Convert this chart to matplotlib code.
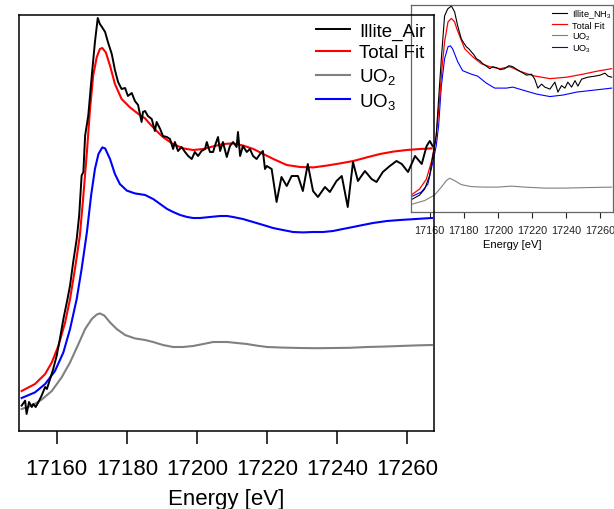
import matplotlib
matplotlib.use("Agg")
import matplotlib.pyplot as plt

plt.rcParams['font.family'] = ['Liberation Sans', 'DejaVu Sans']
plt.rcParams['mathtext.fontset'] = 'custom'
plt.rcParams['mathtext.rm'] = 'Liberation Sans'
plt.rcParams['mathtext.it'] = 'Liberation Sans:italic'

# ---- main panel: Illite_Air (normalised absorbance, arbitrary offsets) ----
air_E = [17150.0, 17151.0, 17151.4, 17152.1, 17152.9, 17153.3, 17154.0, 17154.8, 17155.7, 17156.7,
         17157.2, 17158.1, 17159.0, 17160.0, 17160.9, 17161.9, 17162.9, 17163.8, 17164.7, 17165.7,
         17166.4, 17167.1, 17167.6, 17168.1, 17169.0, 17170.0, 17170.9, 17171.7, 17172.3, 17172.9,
         17173.8, 17174.6, 17175.7, 17176.6, 17177.5, 17178.5, 17179.5, 17180.3, 17181.4, 17182.3,
         17183.2, 17184.2, 17184.6, 17185.2, 17186.0, 17187.1, 17188.0, 17188.5, 17189.5, 17190.3,
         17191.4, 17192.3, 17193.2, 17193.7, 17194.6, 17195.6, 17196.6, 17197.5, 17198.5, 17199.4,
         17200.3, 17201.3, 17202.3, 17202.8, 17203.7, 17204.6, 17205.1, 17206.0, 17206.6, 17207.4,
         17208.5, 17209.4, 17210.3, 17211.3, 17211.7, 17212.3, 17213.1, 17214.2, 17215.1, 17216.0,
         17217.0, 17218.0, 17218.8, 17219.4, 17219.9, 17221.3, 17222.7, 17224.1, 17225.6, 17227.0,
         17228.8, 17230.2, 17231.6, 17233.1, 17234.5, 17236.5, 17237.9, 17239.8, 17241.3, 17243.0,
         17244.5, 17245.9, 17247.9, 17249.8, 17251.2, 17253.0, 17255.0, 17256.9, 17258.4, 17260.2,
         17262.2, 17264.1, 17265.5, 17266.4, 17267.2]
air_mu = [0.127, 0.152, 0.085, 0.145, 0.120, 0.135, 0.120, 0.145, 0.177, 0.220,
          0.210, 0.260, 0.310, 0.377, 0.460, 0.560, 0.645, 0.727, 0.845, 0.960,
          1.077, 1.277, 1.295, 1.477, 1.577, 1.777, 1.945, 2.065, 2.035, 2.020,
          1.995, 1.945, 1.885, 1.805, 1.745, 1.710, 1.715, 1.675, 1.690, 1.650,
          1.630, 1.545, 1.595, 1.600, 1.575, 1.560, 1.500, 1.545, 1.510, 1.475,
          1.470, 1.460, 1.410, 1.445, 1.400, 1.420, 1.395, 1.375, 1.360, 1.395,
          1.375, 1.400, 1.410, 1.445, 1.395, 1.395, 1.425, 1.470, 1.400, 1.445,
          1.370, 1.425, 1.445, 1.420, 1.495, 1.375, 1.425, 1.395, 1.410, 1.375,
          1.360, 1.385, 1.400, 1.310, 1.325, 1.310, 1.145, 1.270, 1.225, 1.275,
          1.275, 1.200, 1.335, 1.200, 1.170, 1.220, 1.195, 1.250, 1.275, 1.120,
          1.345, 1.250, 1.300, 1.260, 1.245, 1.295, 1.325, 1.350, 1.335, 1.295,
          1.375, 1.335, 1.425, 1.450, 1.425]

fit_E = [17150.0, 17153.8, 17156.7, 17158.6, 17160.5, 17162.4, 17163.8, 17165.2, 17166.6, 17167.6,
         17168.6, 17169.5, 17170.4, 17171.4, 17172.3, 17173.0, 17174.0, 17175.2, 17176.6, 17178.5,
         17180.9, 17183.3, 17185.2, 17186.6, 17188.5, 17190.4, 17193.2, 17196.1, 17198.9, 17201.8,
         17204.6, 17207.5, 17210.3, 17213.2, 17216.1, 17218.9, 17221.8, 17225.6, 17229.4, 17233.2,
         17237.0, 17240.8, 17244.6, 17248.4, 17252.2, 17256.0, 17259.8, 17263.6, 17266.9]
fit_mu = [0.200, 0.235, 0.285, 0.343, 0.427, 0.543, 0.660, 0.810, 0.977, 1.177,
          1.393, 1.610, 1.777, 1.868, 1.910, 1.915, 1.893, 1.827, 1.735, 1.660,
          1.618, 1.585, 1.563, 1.535, 1.500, 1.468, 1.435, 1.413, 1.405, 1.410,
          1.423, 1.435, 1.438, 1.427, 1.410, 1.385, 1.360, 1.330, 1.320, 1.318,
          1.327, 1.338, 1.350, 1.368, 1.385, 1.397, 1.405, 1.410, 1.413]

uo3_E = [17150.0, 17153.8, 17156.7, 17159.5, 17161.9, 17163.8, 17165.7, 17167.1, 17168.6, 17169.8,
         17170.9, 17171.9, 17173.0, 17173.8, 17175.2, 17176.6, 17178.0, 17180.0, 17182.3, 17185.2,
         17187.5, 17189.5, 17191.5, 17193.2, 17195.2, 17197.2, 17198.9, 17200.9, 17203.7, 17206.6,
         17208.6, 17210.3, 17213.1, 17216.0, 17218.9, 17221.7, 17224.5, 17227.4, 17230.2, 17233.1,
         17236.0, 17238.8, 17241.6, 17244.5, 17247.3, 17250.2, 17254.2, 17257.9, 17262.4, 17267.0]
uo3_mu = [0.165, 0.193, 0.235, 0.300, 0.393, 0.510, 0.660, 0.810, 0.993, 1.177,
          1.310, 1.385, 1.418, 1.413, 1.360, 1.285, 1.235, 1.202, 1.188, 1.180,
          1.160, 1.135, 1.110, 1.095, 1.080, 1.070, 1.065, 1.065, 1.070, 1.075,
          1.075, 1.070, 1.060, 1.045, 1.030, 1.015, 1.005, 0.995, 0.993, 0.995,
          0.995, 1.000, 1.010, 1.020, 1.030, 1.040, 1.050, 1.055, 1.060, 1.065]

uo2_E = [17150.0, 17152.9, 17155.7, 17158.6, 17161.4, 17163.8, 17166.2, 17168.1, 17170.0, 17171.4,
         17172.3, 17173.6, 17175.2, 17177.1, 17179.5, 17182.3, 17185.2, 17187.5, 17190.3, 17193.2,
         17196.0, 17198.9, 17201.8, 17204.6, 17206.6, 17208.6, 17211.4, 17214.2, 17217.0, 17220.0,
         17224.5, 17229.4, 17234.0, 17238.8, 17243.6, 17248.5, 17253.0, 17257.9, 17262.5, 17267.0]
uo2_mu = [0.110, 0.127, 0.157, 0.200, 0.268, 0.343, 0.435, 0.510, 0.560, 0.582,
          0.588, 0.577, 0.543, 0.510, 0.480, 0.463, 0.455, 0.445, 0.430, 0.420,
          0.420, 0.425, 0.435, 0.445, 0.445, 0.445, 0.440, 0.435, 0.427, 0.420,
          0.417, 0.415, 0.414, 0.415, 0.416, 0.420, 0.422, 0.425, 0.428, 0.430]

# ---- inset: Illite_NH3 ----
nh3_E = [17150.0, 17154.1, 17157.1, 17160.0, 17161.9, 17163.9, 17164.7, 17166.9, 17168.8, 17170.6,
         17172.8, 17174.7, 17176.5, 17178.6, 17180.0, 17181.6, 17183.0, 17184.5, 17186.0, 17187.5,
         17189.5, 17191.2, 17193.0, 17195.3, 17197.0, 17199.2, 17201.5, 17204.1, 17206.5, 17208.8,
         17210.5, 17212.9, 17216.9, 17219.8, 17221.7, 17223.5, 17225.7, 17227.6, 17230.6, 17233.5,
         17235.3, 17237.4, 17239.4, 17241.1, 17243.3, 17245.3, 17247.0, 17249.2, 17252.9, 17257.0,
         17260.0, 17262.9, 17264.7, 17266.8]
nh3_mu = [0.130, 0.170, 0.230, 0.365, 0.565, 0.770, 0.985, 1.540, 1.970, 2.040,
          2.070, 2.010, 1.870, 1.740, 1.700, 1.660, 1.640, 1.610, 1.580, 1.540,
          1.520, 1.490, 1.470, 1.440, 1.460, 1.450, 1.430, 1.440, 1.470, 1.460,
          1.440, 1.415, 1.375, 1.385, 1.335, 1.245, 1.285, 1.255, 1.235, 1.305,
          1.205, 1.270, 1.245, 1.305, 1.255, 1.320, 1.265, 1.335, 1.355, 1.365,
          1.375, 1.395, 1.365, 1.355]

nh3fit_E = [17150.0, 17154.1, 17158.1, 17161.0, 17163.4, 17164.7, 17165.9, 17167.3, 17168.8, 17170.8,
            17172.8, 17174.7, 17176.0, 17177.6, 17180.6, 17185.3, 17190.4, 17195.3, 17201.2, 17207.1,
            17212.9, 17220.6, 17230.6, 17240.6, 17250.0, 17258.2, 17266.8]
nh3fit_mu = [0.180, 0.230, 0.330, 0.500, 0.700, 0.900, 1.135, 1.450, 1.710, 1.910,
             1.945, 1.910, 1.840, 1.770, 1.640, 1.560, 1.490, 1.460, 1.440, 1.460,
             1.415, 1.370, 1.340, 1.355, 1.385, 1.415, 1.440]

nh3uo3_E = [17150.0, 17155.1, 17159.0, 17161.9, 17163.9, 17165.3, 17166.9, 17168.8, 17170.8, 17172.2,
            17173.5, 17176.5, 17179.4, 17184.5, 17188.2, 17193.3, 17198.2, 17205.1, 17208.8, 17214.7,
            17222.7, 17230.6, 17238.2, 17246.3, 17254.1, 17261.8, 17266.8]
nh3uo3_mu = [0.160, 0.200, 0.280, 0.500, 0.665, 0.865, 1.265, 1.540, 1.660, 1.670,
             1.640, 1.510, 1.420, 1.385, 1.365, 1.295, 1.245, 1.245, 1.255, 1.225,
             1.185, 1.160, 1.175, 1.205, 1.220, 1.235, 1.245]

nh3uo2_E = [17150.0, 17157.1, 17162.9, 17166.9, 17169.8, 17171.8, 17174.7, 17178.6, 17184.5, 17192.3,
            17200.0, 17208.0, 17215.9, 17227.6, 17239.4, 17251.2, 17266.8]
nh3uo2_mu = [0.080, 0.115, 0.170, 0.250, 0.315, 0.340, 0.315, 0.275, 0.255, 0.250,
             0.250, 0.260, 0.250, 0.240, 0.240, 0.245, 0.250]

xticks = [17160, 17180, 17200, 17220, 17240, 17260]
xlim = (17149.1, 17267.6)
ylim = (0.0, 2.08)
order = [3, 2, 0, 1]   # legend order: data, fit, UO2, UO3

fig = plt.figure(figsize=(6.14, 5.10), dpi=100)

# inset first so the main panel sits on top of it
ins = fig.add_axes([411/614, 1-213/510, 202/614, 207/510], zorder=1)
ins.patch.set_alpha(0)
ins.plot(nh3uo2_E, nh3uo2_mu, color="#808080", lw=0.8, label="UO$_2$")
ins.plot(nh3uo3_E, nh3uo3_mu, color="#0000ff", lw=0.8, label="UO$_3$")
ins.plot(nh3fit_E, nh3fit_mu, color="#ff0000", lw=0.9, label="Total Fit")
ins.plot(nh3_E, nh3_mu, color="black", lw=0.8, label="Illite_NH$_3$")
ins.set_xlim(*xlim); ins.set_ylim(*ylim)
ins.set_xticks(xticks); ins.set_yticks([])
ins.tick_params(axis='x', direction='out', length=4, width=0.8, labelsize=7.8, pad=5.5, colors='#222222')
for s in ins.spines.values():
    s.set_color("#666666"); s.set_linewidth(0.9)
ins.set_xlabel("Energy [eV]", fontsize=8, labelpad=3)
h, l = ins.get_legend_handles_labels()
ins.legend([h[i] for i in order], [l[i] for i in order], loc='upper right', frameon=False,
           fontsize=6.6, handlelength=1.7, handletextpad=0.5, labelspacing=0.08,
           borderaxespad=0.3, bbox_to_anchor=(1.025, 1.02))

ax = fig.add_axes([18.5/614, 1-432/510, 415.5/614, 416/510], zorder=2)
ax.patch.set_alpha(0)
ax.plot(uo2_E, uo2_mu, color="#808080", lw=1.5, label="UO$_2$")
ax.plot(uo3_E, uo3_mu, color="#0000ff", lw=1.5, label="UO$_3$")
ax.plot(fit_E, fit_mu, color="#ff0000", lw=1.5, label="Total Fit")
ax.plot(air_E, air_mu, color="black", lw=1.4, label="Illite_Air")
ax.set_xlim(*xlim); ax.set_ylim(*ylim)
ax.set_xticks(xticks); ax.set_yticks([])
ax.tick_params(axis='x', direction='out', length=9.5, width=1.1, labelsize=16, pad=10)
for s in ax.spines.values():
    s.set_linewidth(1.1)
ax.set_xlabel("Energy [eV]", fontsize=16, labelpad=6.5)
h, l = ax.get_legend_handles_labels()
ax.legend([h[i] for i in order], [l[i] for i in order], loc='upper right', frameon=False,
          fontsize=13.5, handlelength=1.8, handletextpad=0.5, labelspacing=0.25,
          borderaxespad=0.1, bbox_to_anchor=(1.002, 1.005))

fig.savefig("out.png", dpi=100)
